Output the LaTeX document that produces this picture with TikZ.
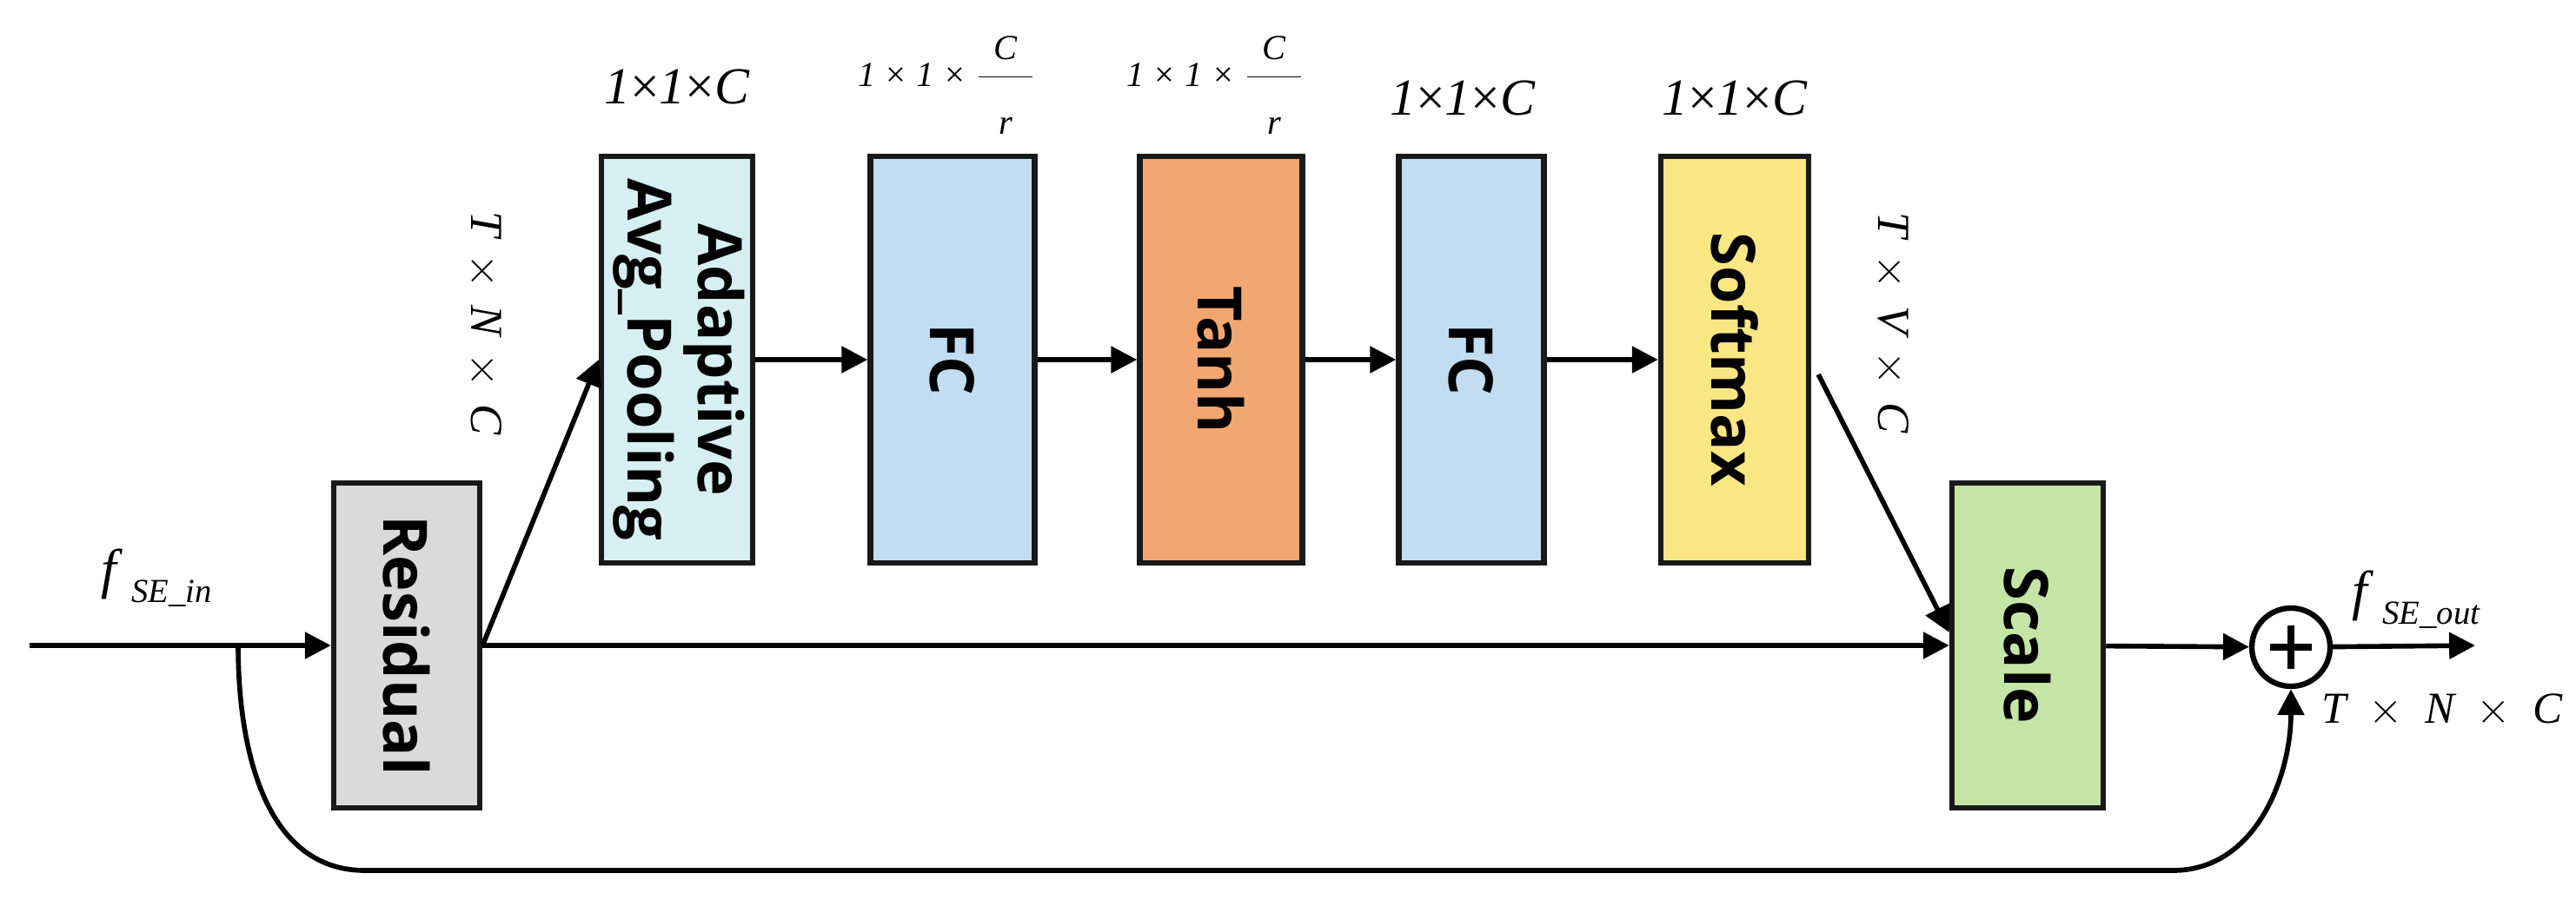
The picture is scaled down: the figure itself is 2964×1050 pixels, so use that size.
\documentclass[tikz,border=0pt]{standalone}
\usepackage{amsmath}
\usepackage{fontspec}
\setmainfont{Liberation Serif}
\newfontfamily\blkfont{Open Sans}
\usetikzlibrary{arrows.meta, calc, positioning}

\definecolor{resgray}{HTML}{DADADA}
\definecolor{poolcyan}{HTML}{D6EFF3}
\definecolor{fcblue}{HTML}{C2DDF1}
\definecolor{tanhorange}{HTML}{F2A771}
\definecolor{softyellow}{HTML}{FBE684}
\definecolor{scalegreen}{HTML}{C4E5A6}

\begin{document}
\begin{tikzpicture}[x=0.01cm, y=-0.01cm, line width=1.6pt, >={Triangle[length=8.5pt, width=8.5pt]},
    blk/.style={draw=black!90, line width=1.8pt, minimum height=4.68cm, inner sep=0pt,
        font=\blkfont\bfseries\fontsize{20}{23}\selectfont},
    dimlab/.style={font=\fontsize{17}{20}\selectfont},
    fraclab/.style={font=\fontsize{11.5}{13}\selectfont},
    sidelab/.style={font=\fontsize{15}{18}\selectfont, rotate=-90}]
    \useasboundingbox (0, 0) rectangle (2964, 1050);

    % blocks
    \node[blk, fill=resgray, minimum width=1.68cm, minimum height=3.74cm] (res) at (468, 743) {\rotatebox{-90}{Residual}};
    \node[blk, fill=poolcyan, minimum width=1.74cm] (pool) at (779, 414) {\rotatebox{-90}{\begin{tabular}{@{}c@{}}Adaptive\\Avg\_Pooling\end{tabular}}};
    \node[blk, fill=fcblue, minimum width=1.89cm] (fc1) at (1096, 414) {\rotatebox{-90}{FC}};
    \node[blk, fill=tanhorange, minimum width=1.87cm] (tanh) at (1405, 414) {\rotatebox{-90}{Tanh}};
    \node[blk, fill=fcblue, minimum width=1.67cm] (fc2) at (1693, 414) {\rotatebox{-90}{FC}};
    \node[blk, fill=softyellow, minimum width=1.70cm] (soft) at (1996, 414) {\rotatebox{-90}{Softmax}};
    \node[blk, fill=scalegreen, minimum width=1.74cm, minimum height=3.74cm] (scale) at (2333, 743) {\rotatebox{-90}{Scale}};
    \node[draw, circle, line width=1.8pt, minimum size=0.9cm, inner sep=0pt] (add) at (2636, 745) {};
    \draw[line width=2.4pt] ($(add.center)+(-24,0)$) -- ($(add.center)+(24,0)$)
        ($(add.center)+(0,-25)$) -- ($(add.center)+(0,25)$);

    \coordinate (src) at (34, 743);
    \coordinate (split) at (274, 743);
    \coordinate (sink) at (2848, 743);
    \coordinate (botl) at (420, 1002);
    \coordinate (botr) at (2500, 1002);

    % shapes of the tensors
    \node[dimlab] (d1) at (779, 100) {\textit{1}×\textit{1}×\textit{C}};
    \node[fraclab] (d2) at (1090, 98) {\textit{1}\hspace{0.3em}×\hspace{0.3em}\textit{1}\hspace{0.3em}×\hspace{0.3em}$\dfrac{\hspace{5pt}\textit{C}\hspace{5pt}\rule[-4pt]{0pt}{0pt}}{\rule{0pt}{17pt}\textit{r}}$};
    \node[fraclab] (d3) at (1399, 98) {\textit{1}\hspace{0.3em}×\hspace{0.3em}\textit{1}\hspace{0.3em}×\hspace{0.3em}$\dfrac{\hspace{5pt}\textit{C}\hspace{5pt}\rule[-4pt]{0pt}{0pt}}{\rule{0pt}{17pt}\textit{r}}$};
    \node[dimlab] (d4) at (1683, 113) {\textit{1}×\textit{1}×\textit{C}};
    \node[dimlab] (d5) at (1996, 113) {\textit{1}×\textit{1}×\textit{C}};
    \node[sidelab] (tnc) at (558, 372) {$\textit{T}\,\times\,\textit{N}\,\times\,\textit{C}$};
    \node[sidelab] (tvc) at (2177, 372) {$\textit{T}\,\times\,\textit{V}\,\times\,\textit{C}$};
    \node[font=\fontsize{14.5}{18}\selectfont] (tnco) at (2810, 818) {$\textit{T}\;\times\;\textit{N}\;\times\;\textit{C}$};
    \node (fin) at (180, 665) {\fontsize{18}{20}\selectfont\textit{f}\,\raisebox{-5pt}{\fontsize{11}{13}\selectfont\textit{SE\_in}}};
    \node (fout) at (2780, 690) {\fontsize{18}{20}\selectfont\textit{f}\,\raisebox{-5pt}{\fontsize{11}{13}\selectfont\textit{SE\_out}}};

    \draw
    (src) edge[->] (res)
    (res.east) edge[->] (pool.west)
    (pool) edge[->] (fc1)
    (fc1) edge[->] (tanh)
    (tanh) edge[->] (fc2)
    (fc2) edge[->] (soft)
    ($(soft.east)+(8,17)$) edge[->] ($(scale.west)+(0,-15)$)
    (res.east) edge[->] (scale.west)
    (scale) edge[->] (add)
    (add) edge[->] (sink);
    \draw[->] (split) to[out=-90, in=180] (botl) -- (botr) to[out=0, in=-90] (add.south);
\end{tikzpicture}
\end{document}
